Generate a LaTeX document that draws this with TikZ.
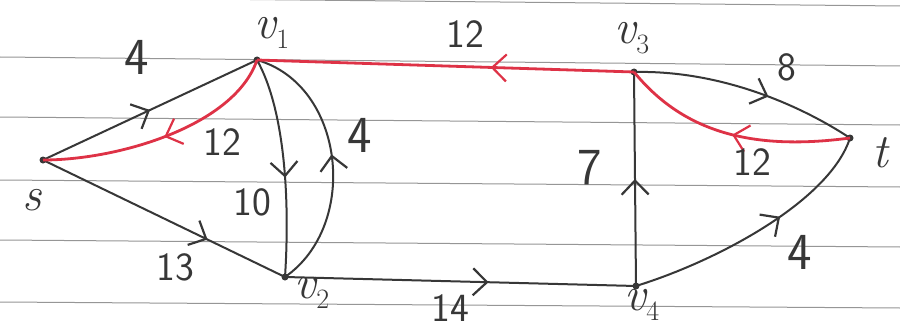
\documentclass[tikz,border=0pt]{standalone}
\usepackage{fontspec}
\usetikzlibrary{arrows.meta,decorations.markings}
\definecolor{ink}{RGB}{55,55,55}
\definecolor{redink}{RGB}{222,50,70}
\definecolor{rule}{RGB}{150,150,150}
\tikzset{
  dot/.style={circle,fill=ink,inner sep=0pt,minimum size=7pt},
  edge/.style={draw=ink,line width=2pt},
  redge/.style={draw=redink,line width=2.8pt},
  midarrow/.style={postaction={decorate},decoration={markings,
     mark=at position #1 with {\arrow{Straight Barb[length=14pt,width=27pt,line width=2.2pt]}}}},
  lab/.style={text=ink,font=\sffamily\fontsize{40}{40}\selectfont,inner sep=0pt},
  biglab/.style={text=ink,font=\sffamily\fontsize{52}{52}\selectfont,inner sep=0pt},
  vlab/.style={text=ink,font=\itshape\fontsize{48}{48}\selectfont,inner sep=0pt},
}
\newcommand{\vsub}[1]{v\raisebox{-10pt}{\upshape\fontsize{28}{28}\selectfont #1}}
\begin{document}
\begin{tikzpicture}[x=1pt,y=-1pt]
\fill[white] (0,0) rectangle (900,329);
\useasboundingbox (0,0) rectangle (900,329);
% ruled lines of the paper
\foreach \a/\b in {-3/6,57/66,117/125,180/187,240/247,302/308}
  \draw[rule,line width=1pt] (0,\a) -- (900,\b);
% vertices
\node[dot] (s)  at (43,160) {};
\node[dot] (v1) at (257,60) {};
\node[dot] (v2) at (285,277) {};
\node[dot] (v3) at (634,72) {};
\node[dot] (v4) at (636,286) {};
\node[dot] (t)  at (850,138) {};
% vertex labels
\node[vlab] (ls)  at (32,200) {s};
\node[vlab] (lv1) at (272,33) {\vsub{1}};
\node[vlab] (lv2) at (312,293) {\vsub{2}};
\node[vlab] (lv3) at (632,38) {\vsub{3}};
\node[vlab] (lv4) at (642,305) {\vsub{4}};
\node[vlab] (lt)  at (880,153) {t};
% edges
\path[edge,midarrow=0.5] (s.center) -- (v1.center);
\path[edge,midarrow=0.68] (s.center) -- (v2.center);
\path[edge,midarrow=0.55] (v1.center) .. controls (285,110) and (290,200) .. (v2.center);
\path[edge,midarrow=0.52] (v2.center) .. controls (360,225) and (345,85) .. (v1.center);
\path[edge,midarrow=0.58] (v2.center) -- (v4.center);
\path[edge,midarrow=0.5] (v4.center) -- (v3.center);
\path[edge,midarrow=0.6] (v3.center) .. controls (720,70) and (800,105) .. (t.center);
\path[edge,midarrow=0.6] (v4.center) .. controls (720,260) and (830,200) .. (t.center);
% red (highlighted) edges
\path[redge,midarrow=0.5] (v1.center) .. controls (235,125) and (120,160) .. (s.center);
\path[redge,midarrow=0.38] (v3.center) -- (v1.center);
\path[redge,midarrow=0.5] (t.center) .. controls (745,152) and (680,128) .. (v3.center);
% edge labels
\node[biglab] (c1) at (137,57) {4};
\node[lab] (c2) at (222,142) {12};
\node[lab] (c3) at (252,202) {10};
\node[biglab] (c4) at (360,135) {4};
\node[lab] (c5) at (175,267) {13};
\node[lab] (c6) at (465,34) {12};
\node[lab] (c7) at (450,308) {14};
\node[biglab] (c8) at (590,168) {7};
\node[lab] (c9) at (787,67) {8};
\node[lab] (c10) at (752,162) {12};
\node[biglab] (c11) at (800,252) {4};
\end{tikzpicture}
\end{document}
